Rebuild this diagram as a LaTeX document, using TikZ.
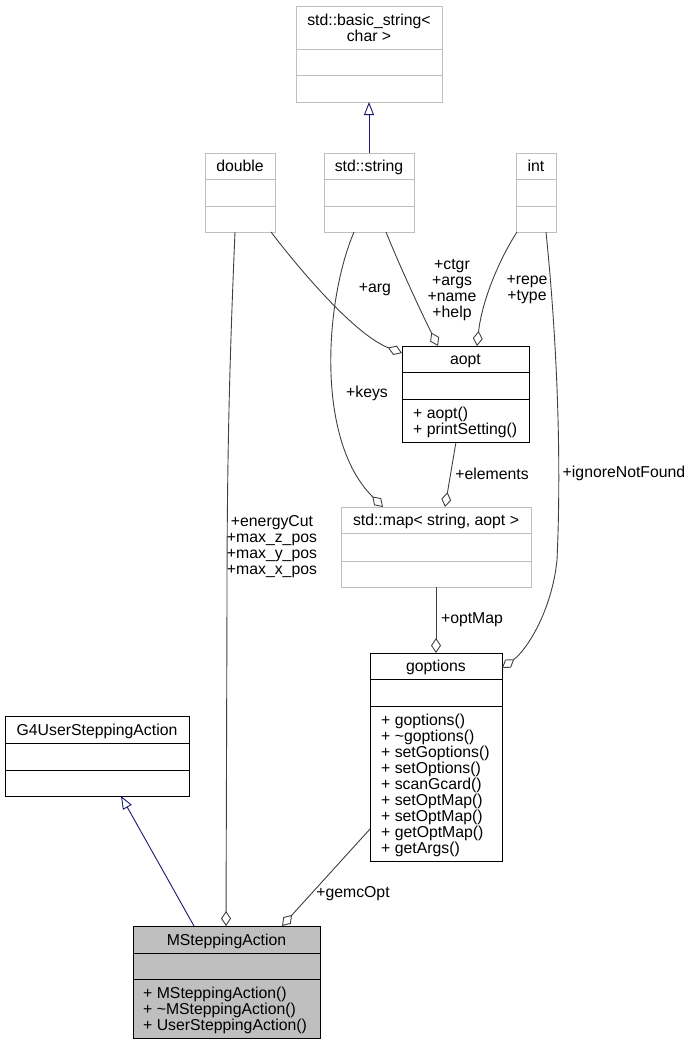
\documentclass[tikz,border=0pt]{standalone}
\usepackage{fontspec}
\setmainfont{Liberation Sans}
\usetikzlibrary{arrows.meta,calc}
\definecolor{lgray}{HTML}{BFBFBF}
\definecolor{edgec}{HTML}{404040}
\definecolor{inhc}{HTML}{191970}
\tikzset{
  box/.style={line width=1pt, inner sep=0, outer sep=0, anchor=north west},
  gbox/.style={box, draw=lgray, fill=white},
  kbox/.style={box, draw=black, fill=white},
  mbox/.style={box, draw=black, fill=lgray},
  txt/.style={font=\fontsize{15.8}{16}\selectfont, inner sep=0},
  title/.style={txt, anchor=base},
  meth/.style={txt, anchor=base west},
  lbl/.style={txt, align=center},
  agg/.style={draw=edgec, line width=0.9pt, -{Diamond[open, length=15pt, width=10pt]}},
  inh/.style={draw=inhc, line width=0.9pt, -{Triangle[open, length=13pt, width=10pt]}}
}
% name, style, x, y, w, h, d1, d2
\newcommand\umlbox[8]{%
  \node[#2, minimum width=#5pt, minimum height=#6pt] (#1) at (#3,#4) {};
  \draw[#2] ($(#1.north west)+(0,#7)$) -- ($(#1.north east)+(0,#7)$);
  \draw[#2] ($(#1.north west)+(0,#8)$) -- ($(#1.north east)+(0,#8)$);
}
\begin{document}
\begin{tikzpicture}[x=1pt,y=-1pt]
\useasboundingbox (0,0) rectangle (693,1044);

% boxes
\umlbox{bstr}{gbox}{296}{6}{146}{96}{43}{69}
\umlbox{dbl}{gbox}{205}{153}{70}{79}{26}{53}
\umlbox{str}{gbox}{324}{153}{90}{79}{26}{53}
\umlbox{int}{gbox}{516}{153}{40}{79}{26}{53}
\umlbox{aopt}{kbox}{402}{346}{127}{96}{26}{53}
\umlbox{map}{gbox}{341}{507}{190}{80}{26}{54}
\umlbox{gopt}{kbox}{370}{653}{132}{208}{26}{53}
\umlbox{g4}{kbox}{5}{716}{184}{80}{27}{54}
\umlbox{ms}{mbox}{133}{926}{187}{112}{27}{53}

% titles
\node[title] at ($(bstr.north)+(0,19.5)$) {std::basic\_string<};
\node[title] at ($(bstr.north)+(0,35.5)$) {char >};
\node[title] at ($(dbl.north)+(0,18.7)$) {double};
\node[title] at ($(str.north)+(0,18.7)$) {std::string};
\node[title] at ($(int.north)+(0,18.7)$) {int};
\node[title] at ($(aopt.north)+(0,18.7)$) {aopt};
\node[title] at ($(map.north)+(0,18.7)$) {std::map< string, aopt >};
\node[title] at ($(gopt.north)+(0,18.7)$) {goptions};
\node[title] at ($(g4.north)+(0,19.2)$) {G4UserSteppingAction};
\node[title] at ($(ms.north)+(0,19.2)$) {MSteppingAction};

% methods
\foreach \t [count=\i from 0] in {+ aopt(), + printSetting()}
  \node[meth] at ($(aopt.north west)+(11,72+16*\i)$) {\t};
\foreach \t [count=\i from 0] in {+ goptions(), + \textasciitilde goptions(), + setGoptions(), + setOptions(), + scanGcard(), + setOptMap(), + setOptMap(), + getOptMap(), + getArgs()}
  \node[meth] at ($(gopt.north west)+(11,72+16*\i)$) {\t};
\foreach \t [count=\i from 0] in {+ MSteppingAction(), + \textasciitilde MSteppingAction(), + UserSteppingAction()}
  \node[meth] at ($(ms.north west)+(10,72+16*\i)$) {\t};

% inheritance
\draw[inh] (str.north) -- (bstr.south);
\draw[inh] ($(ms.north west)+(61,0)$) -- ($(g4.south west)+(116,0)$);

% aggregation / usage
\draw[agg] ($(dbl.south west)+(30,0)$) .. controls (230,350) and (227,450) .. (227,600) -- ($(ms.north west)+(93,0)$);
\draw[agg] ($(dbl.south west)+(66,0)$) .. controls (300,270) and (355,335) .. ($(aopt.north west)+(0,7)$);
\draw[agg] ($(str.south west)+(62,0)$) .. controls (398,262) and (420,310) .. ($(aopt.north west)+(36,0)$);
\draw[agg] ($(str.south west)+(30,0)$) .. controls (325,300) and (315,440) .. ($(map.north west)+(42,0)$);
\draw[agg] ($(int.south west)+(1,0)$) .. controls (500,258) and (482,300) .. ($(aopt.north west)+(75,0)$);
\draw[agg] ($(int.south west)+(30,0)$) .. controls (556,330) and (562,450) .. (557,560) .. controls (552,610) and (527,650) .. ($(gopt.north east)+(0,15)$);
\draw[agg] ($(aopt.south west)+(54,0)$) -- ($(map.north west)+(104,0)$);
\draw[agg] ($(map.south west)+(95,0)$) -- ($(gopt.north west)+(66,0)$);
\draw[agg] ($(gopt.north west)+(0,176)$) -- ($(ms.north west)+(149,0)$);

% labels
\node[lbl] (l1) at (272,547) {+energyCut\\+max\_z\_pos\\+max\_y\_pos\\+max\_x\_pos};
\node[lbl] (l2) at (375,290) {+arg};
\node[lbl] (l3) at (452,290) {+ctgr\\+args\\+name\\+help};
\node[lbl] (l4) at (527,290) {+repe\\+type};
\node[lbl] (l5) at (367,393) {+keys};
\node[lbl] (l6) at (492,474) {+elements};
\node[lbl] (l7) at (624,473) {+ignoreNotFound};
\node[lbl] (l8) at (472,620) {+optMap};
\node[lbl] (l9) at (353,894) {+gemcOpt};
\end{tikzpicture}
\end{document}
